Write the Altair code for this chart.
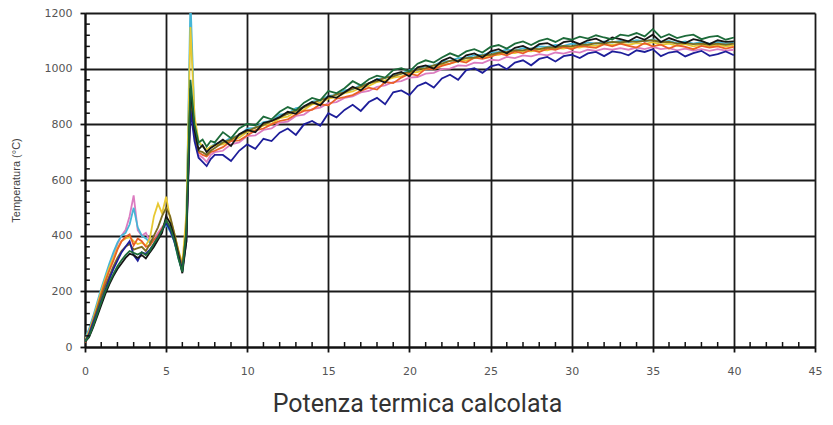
import altair as alt
import pandas as pd

X_POS = [0, 0.25, 0.5, 0.75, 1, 1.25, 1.5, 1.75, 2, 2.25, 2.5, 2.75, 3, 3.25, 3.5, 3.75,
         4, 4.25, 4.5, 4.75, 5, 5.25, 5.5, 5.75, 6, 6.25, 6.5, 6.75, 7, 7.25, 7.5, 7.75, 8,
         8.5, 9, 9.5, 10, 10.5, 11, 11.5, 12, 12.5, 13, 13.5, 14, 14.5, 15, 15.5, 16, 16.5,
         17, 17.5, 18, 18.5, 19, 19.5, 20, 20.5, 21, 21.5, 22, 22.5, 23, 23.5, 24, 24.5,
         25, 25.5, 26, 26.5, 27, 27.5, 28, 28.5, 29, 29.5, 30, 30.5, 31, 31.5, 32, 32.5,
         33, 33.5, 34, 34.5, 35, 35.5, 36, 36.5, 37, 37.5, 38, 38.5, 39, 39.5, 40]

GREEN = [20, 38, 75, 118, 160, 200, 232, 262, 290, 312, 330, 345, 338, 332, 340, 330,
         345, 372, 392, 420, 455, 430, 385, 320, 270, 420, 960, 800, 735, 745, 720, 740, 735,
         772, 750, 785, 802, 796, 828, 818, 845, 862, 850, 878, 895, 886, 920, 912, 930, 955,
         940, 962, 975, 968, 995, 1002, 990, 1018, 1030, 1022, 1040, 1055, 1044, 1062, 1070,
         1058, 1078, 1085, 1072, 1090, 1098, 1085, 1100, 1108, 1096, 1110, 1104, 1115, 1108,
         1120, 1112, 1105, 1122, 1118, 1128, 1116, 1142, 1112, 1124, 1110, 1118, 1122, 1106,
         1114, 1118, 1104, 1112]
BLACK = [18, 35, 70, 110, 150, 190, 225, 255, 280, 300, 320, 335, 330, 320, 330, 318,
         340, 360, 385, 410, 470, 445, 395, 330, 265, 380, 930, 780, 710, 725, 700, 715, 725,
         745, 722, 765, 780, 772, 805, 812, 826, 845, 838, 865, 880, 868, 902, 895, 915, 935,
         922, 948, 962, 950, 980, 988, 972, 1005, 1012, 1000, 1028, 1040, 1025, 1048, 1055,
         1040, 1062, 1070, 1055, 1075, 1082, 1068, 1088, 1092, 1078, 1095, 1100, 1088, 1102,
         1108, 1094, 1112, 1106, 1098, 1115, 1104, 1122, 1096, 1110, 1100, 1092, 1106, 1100,
         1088, 1102, 1096, 1098]
OLIVE = [22, 45, 90, 135, 180, 220, 255, 290, 320, 345, 360, 370, 350, 355, 360, 345,
         370, 400, 430, 470, 500, 470, 410, 345, 285, 420, 880, 760, 705, 700, 690, 705, 715,
         735, 745, 762, 775, 788, 798, 812, 825, 838, 850, 862, 875, 888, 895, 908, 915, 928,
         935, 948, 955, 968, 972, 982, 988, 998, 1002, 1012, 1018, 1028, 1030, 1038, 1040,
         1048, 1050, 1058, 1060, 1066, 1066, 1072, 1070, 1076, 1076, 1082, 1080, 1086, 1086,
         1092, 1090, 1096, 1094, 1098, 1096, 1100, 1102, 1095, 1096, 1090, 1092, 1088, 1090,
         1086, 1090, 1086, 1090]
ORANGE = [15, 50, 95, 140, 190, 235, 275, 310, 350, 380, 395, 405, 365, 390, 380, 360,
          365, 385, 400, 425, 455, 430, 395, 340, 285, 410, 870, 770, 700, 690, 685, 700, 705,
          718, 740, 742, 760, 778, 785, 800, 812, 818, 835, 848, 852, 872, 868, 892, 898, 905,
          920, 932, 925, 952, 948, 968, 982, 975, 1000, 998, 1010, 1018, 1028, 1022, 1040,
          1035, 1042, 1055, 1048, 1062, 1055, 1068, 1060, 1072, 1068, 1078, 1070, 1082, 1078,
          1075, 1088, 1080, 1090, 1082, 1076, 1092, 1080, 1086, 1072, 1084, 1078, 1070, 1082,
          1076, 1080, 1072, 1078]
PINK = [25, 60, 105, 150, 195, 240, 285, 330, 370, 400, 420, 470, 545, 420, 400, 410,
        380, 390, 410, 430, 450, 420, 390, 335, 280, 400, 900, 760, 690, 680, 665, 690, 700,
        705, 728, 735, 758, 760, 780, 785, 806, 810, 830, 835, 855, 860, 876, 880, 895, 900,
        915, 920, 935, 940, 952, 955, 968, 970, 982, 985, 998, 1000, 1012, 1010, 1022,
        1020, 1032, 1030, 1042, 1038, 1048, 1044, 1052, 1048, 1058, 1054, 1062, 1058, 1068,
        1064, 1072, 1068, 1074, 1068, 1076, 1070, 1078, 1070, 1074, 1066, 1072, 1065, 1070,
        1064, 1070, 1065, 1068]
NAVY = [20, 45, 85, 125, 165, 205, 245, 280, 310, 340, 360, 380, 330, 310, 340, 335,
        350, 370, 395, 420, 445, 420, 380, 330, 275, 380, 850, 740, 680, 665, 650, 675, 690,
        690, 668, 705, 728, 712, 748, 740, 770, 785, 762, 800, 812, 795, 840, 825, 852, 870,
        848, 880, 895, 872, 915, 922, 905, 938, 950, 932, 965, 978, 960, 995, 1002,
        985, 1008, 1015, 998, 1022, 1030, 1012, 1035, 1042, 1026, 1045, 1050, 1038, 1055,
        1060, 1045, 1062, 1058, 1048, 1066, 1060, 1070, 1045, 1058, 1062, 1044, 1056, 1064,
        1046, 1052, 1062, 1048]
CYAN = [30, 65, 110, 160, 210, 255, 300, 340, 375, 400, 410, 440, 500, 430, 400, 390,
        375, 385, 400, 420, 440, 415, 380, 320, 270, 450, 1250, 820, 730, 720, 705, 720, 730,
        735, 752, 760, 785, 788, 808, 812, 835, 838, 858, 862, 882, 886, 902, 906, 922, 926,
        942, 946, 962, 966, 978, 982, 995, 998, 1010, 1012, 1025, 1028, 1038, 1040, 1048,
        1050, 1058, 1060, 1068, 1066, 1074, 1072, 1080, 1078, 1085, 1082, 1090, 1086, 1094,
        1090, 1098, 1094, 1100, 1095, 1102, 1098, 1105, 1096, 1100, 1092, 1098, 1090, 1096,
        1090, 1095, 1090, 1094]
YELLOW = [25, 55, 100, 150, 200, 245, 285, 320, 355, 380, 390, 395, 380, 370, 375, 365,
          390, 470, 515, 480, 540, 460, 410, 350, 300, 480, 1150, 830, 740, 720, 710, 720, 725,
          728, 742, 752, 772, 778, 796, 802, 822, 828, 846, 852, 872, 878, 892, 898, 912, 918,
          932, 938, 952, 958, 968, 972, 985, 988, 998, 1004, 1014, 1018, 1026, 1030, 1038,
          1040, 1048, 1050, 1058, 1056, 1064, 1062, 1068, 1066, 1074, 1072, 1078, 1076, 1084,
          1082, 1088, 1085, 1090, 1086, 1092, 1088, 1095, 1086, 1090, 1082, 1088, 1080, 1086,
          1080, 1085, 1080, 1084]

X_TICKS = [0, 5, 10, 15, 20, 25, 30, 35, 40, 45]
Y_TICKS = [0, 200, 400, 600, 800, 1000, 1200]
X_MINOR = [1, 2, 3, 4, 6, 7, 8, 9, 11, 12, 13, 14, 16, 17, 18, 19, 21, 22, 23, 24,
           26, 27, 28, 29, 31, 32, 33, 34, 36, 37, 38, 39, 41, 42, 43, 44]
Y_MINOR = [40, 80, 120, 160, 240, 280, 320, 360, 440, 480, 520, 560, 640, 680, 720, 760,
           840, 880, 920, 960, 1040, 1080, 1120, 1160]

SERIES = [
    ("#dc7cc0", PINK),
    ("#46b6d6", CYAN),
    ("#e8c832", YELLOW),
    ("#ea6028", ORANGE),
    ("#7d6c1e", OLIVE),
    ("#1e1e9a", NAVY),
    ("#151515", BLACK),
    ("#1d6b3a", GREEN),
]

xs = alt.Scale(domain=[0, 45], nice=False, zero=False)
ys = alt.Scale(domain=[0, 1200], nice=False, zero=False)

x_axis = alt.Axis(
    values=X_TICKS, grid=True, gridColor="#1a1a1a", gridWidth=1.8,
    domainColor="#111111", domainWidth=2, tickColor="#111111", tickWidth=1.8,
    tickSize=5, labelFont="DejaVu Sans", labelFontSize=11, labelColor="#555555",
    labelPadding=13, labelFlush=False, labelOverlap=False, format="d",
    title="Potenza termica calcolata", titleFont="Roboto", titleFontSize=25,
    titleFontWeight="normal", titleColor="#333333", titleX=332, titleY=64,
    titleAlign="center", titleBaseline="alphabetic",
)
y_axis = alt.Axis(
    values=Y_TICKS, grid=True, gridColor="#1a1a1a", gridWidth=1.8,
    domainColor="#111111", domainWidth=2, tickColor="#111111", tickWidth=1.8,
    tickSize=5, labelFont="DejaVu Sans", labelFontSize=11, labelColor="#555555",
    labelPadding=8, labelFlush=False, labelOverlap=False, format="d",
    title="Temperatura (°C)", titleFont="Liberation Sans", titleFontSize=11,
    titleFontWeight="normal", titleColor="#444444", titleX=-69, titleY=167,
    titleAlign="center", titleBaseline="middle",
)

layers = []
for color, vals in SERIES:
    df = pd.DataFrame({"x": X_POS, "y": vals})
    layers.append(
        alt.Chart(df).mark_line(color=color, strokeWidth=1.8, clip=True).encode(
            x=alt.X("x:Q", scale=xs, axis=x_axis),
            y=alt.Y("y:Q", scale=ys, axis=y_axis),
        )
    )

xminor = alt.Chart(pd.DataFrame({"x": X_MINOR})).mark_rule(color="#111111", strokeWidth=1.5).encode(
    x=alt.X("x:Q", scale=xs, axis=x_axis),
    y=alt.Y(datum=0, type="quantitative", scale=ys, axis=y_axis),
    y2=alt.Y2(datum=18),
)
yminor = alt.Chart(pd.DataFrame({"y": Y_MINOR})).mark_rule(color="#111111", strokeWidth=1.5).encode(
    y=alt.Y("y:Q", scale=ys, axis=y_axis),
    x=alt.X(datum=0, type="quantitative", scale=xs, axis=x_axis),
    x2=alt.X2(datum=0.3),
)

chart = alt.layer(*layers, xminor, yminor).properties(
    width=730, height=334,
    autosize=alt.AutoSizeParams(type="none"),
    padding={"left": 77, "top": 5, "right": 8, "bottom": 70},
    background="white",
).configure_view(stroke=None)

chart.save("out.html", embed_options={"renderer": "svg", "actions": False})
